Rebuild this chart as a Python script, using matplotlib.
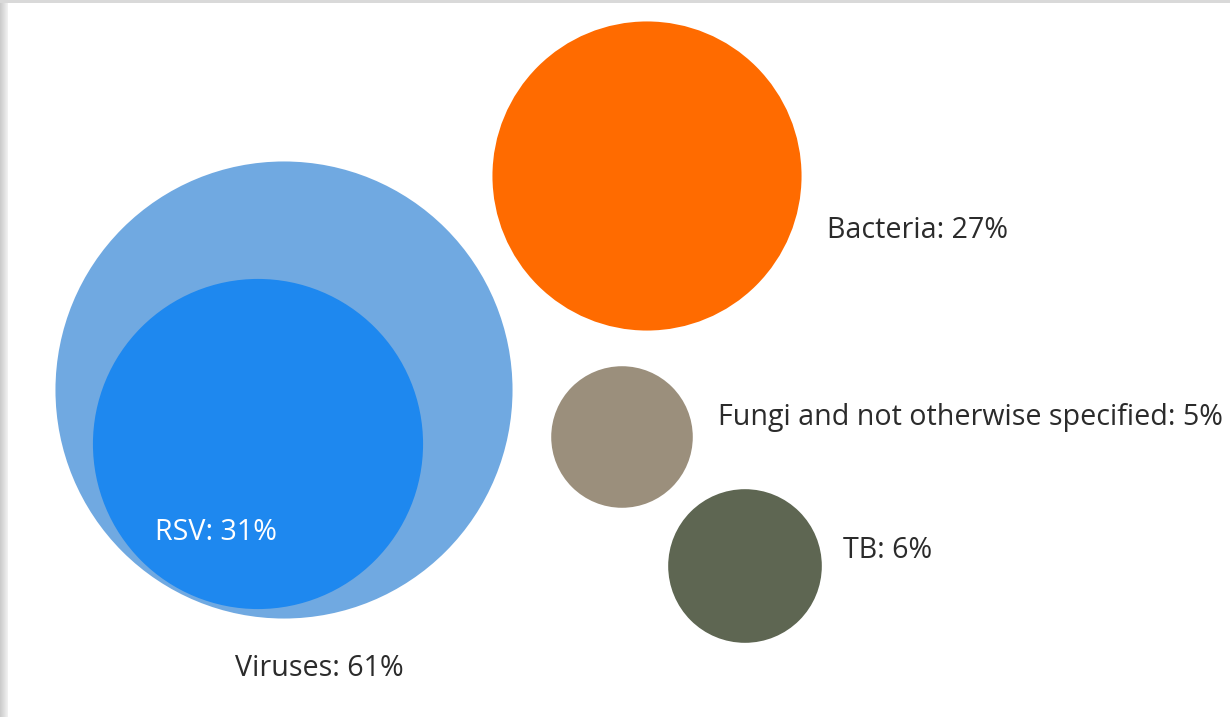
import numpy as np
import matplotlib.pyplot as plt
from matplotlib.patches import Circle, Rectangle

# share of cases by pathogen group (%)
groups = ["Viruses", "RSV", "Bacteria", "Fungi and not otherwise specified", "TB"]
shares = [61, 31, 27, 5, 6]
colors = ["#70a9e1", "#1e88ef", "#ff6b00", "#9b8f7c", "#5e6652"]

# layout (pixel coords of the 1230x717 canvas)
centers = [(284, 390), (258, 444), (647, 176), (622, 437), (745, 566)]
label_pos = [(235, 669), (155, 532), (827, 230), (718, 417), (843, 550)]
label_color = ["#2b2b2b", "white", "#2b2b2b", "#2b2b2b", "#2b2b2b"]

# radius scale: area-ish, with a small floor
def radius(v):
    return 28.3 * np.sqrt(v) + 7.5

W, H = 1230, 717
fig = plt.figure(figsize=(W / 100, H / 100), dpi=100)
ax = fig.add_axes([0, 0, 1, 1])
ax.set_xlim(0, W)
ax.set_ylim(H, 0)
ax.set_aspect("equal")
ax.axis("off")

# grey frame on the left and top
for i in range(8):
    g = 0.80 + i * 0.02
    ax.add_patch(Rectangle((i, 0), 1, H, color=(g, g, g), lw=0))
ax.add_patch(Rectangle((0, 0), W, 3, color="#d9d9d9", lw=0))

for (cx, cy), v, c in zip(centers, shares, colors):
    ax.add_patch(Circle((cx, cy), radius(v), color=c, lw=0))

for g, v, (x, y), tc in zip(groups, shares, label_pos, label_color):
    ax.text(x, y, f"{g}: {v}%", ha="left", va="center", fontsize=20.6,
            color=tc, family="Open Sans")

fig.savefig("out.png", dpi=100)
